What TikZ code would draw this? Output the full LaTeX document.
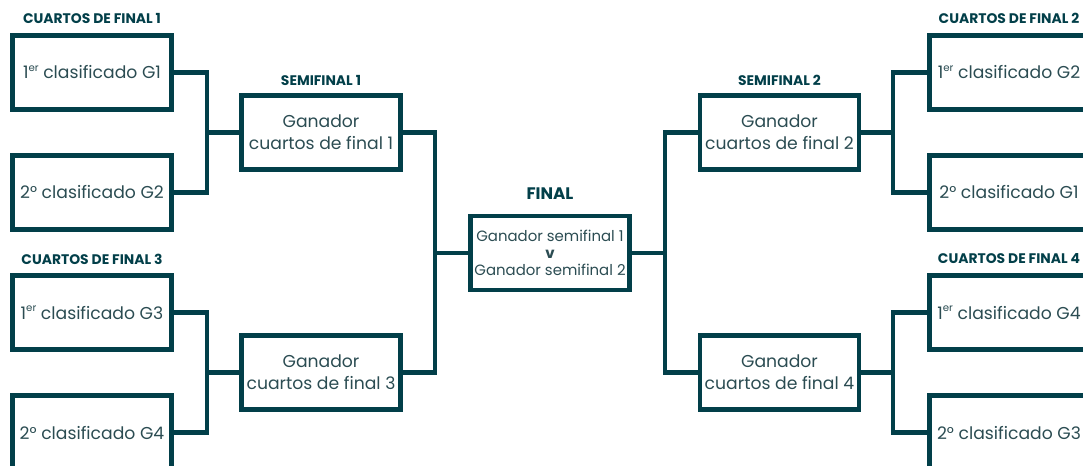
\documentclass[tikz,border=0pt]{standalone}
\usepackage{fontspec}
\setmainfont{Poppins}
\definecolor{bracketteal}{HTML}{023F49}
\definecolor{boxtext}{HTML}{2B4C52}
\newcommand{\ersup}{\raisebox{0.42em}{\fontsize{5.8}{6}\selectfont er}}
\begin{document}
\begin{tikzpicture}[x=0.02cm, y=-0.02cm,
    teambox/.style={draw=bracketteal, line width=2.8pt, minimum width=3.18cm,
        minimum height=1.48cm, inner sep=0pt, align=center, text=boxtext,
        font=\fontsize{9.8}{12.5}\selectfont},
    roundtitle/.style={text=bracketteal, font=\bfseries\fontsize{7.9}{9}\selectfont},
    link/.style={draw=bracketteal, line width=2.8pt}]

        % Fix the canvas
        \useasboundingbox (0,0) rectangle (1083,466);

        % Quarter-final boxes, left side
        \node[teambox] (q1) at (92,72.5) {1\ersup{} clasificado G1};
        \node[teambox] (q2) at (92,192.5) {2° clasificado G2};
        \node[teambox] (q3) at (92,312.5) {1\ersup{} clasificado G3};
        \node[teambox] (q4) at (92,432.5) {2° clasificado G4};

        % Quarter-final boxes, right side
        \node[teambox] (q5) at (1009,72.5) {1\ersup{} clasificado G2};
        \node[teambox] (q6) at (1009,192.5) {2° clasificado G1};
        \node[teambox] (q7) at (1009,312.5) {1\ersup{} clasificado G4};
        \node[teambox] (q8) at (1009,432.5) {2° clasificado G3};

        % Semi-final boxes
        \node[teambox] (s1) at (321,132.5) {Ganador\\cuartos de final 1};
        \node[teambox] (s3) at (321,372.5) {Ganador\\cuartos de final 3};
        \node[teambox] (s2) at (779.5,132.5) {Ganador\\cuartos de final 2};
        \node[teambox] (s4) at (779.5,372.5) {Ganador\\cuartos de final 4};

        % Final box
        \node[teambox, font=\fontsize{8.5}{9.6}\selectfont] (fin) at (550,253)
            {Ganador semifinal 1\\{\bfseries v}\\Ganador semifinal 2};

        % Round titles
        \node[roundtitle] (t1) at (92,18) {CUARTOS DE FINAL 1};
        \node[roundtitle] (t3) at (92,259) {CUARTOS DE FINAL 3};
        \node[roundtitle] (t2) at (1009,18) {CUARTOS DE FINAL 2};
        \node[roundtitle] (t4) at (1009,259) {CUARTOS DE FINAL 4};
        \node[roundtitle] (ts1) at (321,80) {SEMIFINAL 1};
        \node[roundtitle] (ts2) at (779.5,80) {SEMIFINAL 2};
        \node[roundtitle, font=\bfseries\fontsize{9.5}{10}\selectfont] (tf) at (550,194) {FINAL};

        % Junction points of the bracket
        \coordinate (j1) at (207,132.5);
        \coordinate (j3) at (207,372.5);
        \coordinate (j2) at (893,132.5);
        \coordinate (j4) at (893,372.5);
        \coordinate (jl) at (435,253);
        \coordinate (jr) at (665,253);

        % Connectors
        \draw[link] (q1.east) -| (j1) |- (q2.east);
        \draw[link] (q3.east) -| (j3) |- (q4.east);
        \draw[link] (q5.west) -| (j2) |- (q6.west);
        \draw[link] (q7.west) -| (j4) |- (q8.west);
        \draw[link] (j1) -- (s1.west);
        \draw[link] (j3) -- (s3.west);
        \draw[link] (j2) -- (s2.east);
        \draw[link] (j4) -- (s4.east);
        \draw[link] (s1.east) -| (jl) |- (s3.east);
        \draw[link] (s2.west) -| (jr) |- (s4.west);
        \draw[link] (jl) -- (fin.west);
        \draw[link] (jr) -- (fin.east);

    \end{tikzpicture}
\end{document}
